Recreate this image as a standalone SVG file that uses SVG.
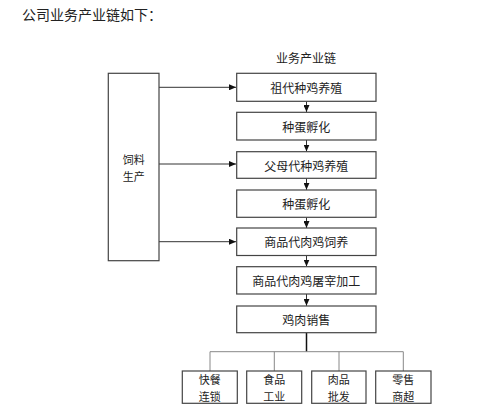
<svg xmlns="http://www.w3.org/2000/svg" width="500" height="410" viewBox="0 0 500 410">
<style>
text{font-family:"Noto Sans CJK SC","Noto Sans CJK JP",sans-serif;fill:#222;}
.t{font-size:12px;text-anchor:middle;dominant-baseline:central;}
.s{font-size:11px;text-anchor:middle;dominant-baseline:central;}
.box{fill:#fff;stroke:#444;stroke-width:1.2;}
.ln{stroke:#333;stroke-width:1;fill:none;}
.br{stroke:#888;stroke-width:1;fill:none;}
</style>
<defs>
<marker id="ah" markerWidth="8" markerHeight="6" refX="7" refY="3" orient="auto" markerUnits="userSpaceOnUse">
<path d="M0,0 L7,3 L0,6 Z" fill="#111"/>
</marker>
</defs>
<rect width="500" height="410" fill="#fff"/>
<text x="22" y="20" style="font-size:14px">公司业务产业链如下：</text>
<text class="t" x="306" y="57">业务产业链</text>
<g id="connectors">
<line class="ln" x1="159" y1="87.3" x2="236" y2="87.3" marker-end="url(#ah)"/>
<line class="ln" x1="159" y1="164" x2="236" y2="164" marker-end="url(#ah)"/>
<line class="ln" x1="159" y1="241.7" x2="236" y2="241.7" marker-end="url(#ah)"/>
<line class="ln" x1="306.5" y1="101.3" x2="306.5" y2="112" marker-end="url(#ah)"/>
<line class="ln" x1="306.5" y1="140" x2="306.5" y2="151.5" marker-end="url(#ah)"/>
<line class="ln" x1="306.5" y1="178.3" x2="306.5" y2="189.8" marker-end="url(#ah)"/>
<line class="ln" x1="306.5" y1="217.3" x2="306.5" y2="228" marker-end="url(#ah)"/>
<line class="ln" x1="306.5" y1="255.5" x2="306.5" y2="266.5" marker-end="url(#ah)"/>
<line class="ln" x1="306.5" y1="294" x2="306.5" y2="305.8" marker-end="url(#ah)"/>
<line x1="306.5" y1="332.7" x2="306.5" y2="351.7" stroke="#111" stroke-width="1.5"/>
<path class="br" d="M210,371 V351.7 H403.3 V371 M274.3,351.7 V371 M339,351.7 V371"/>
</g>
<g id="feed"><rect class="box" x="108.3" y="73.3" width="50.7" height="187.4"/><text class="s" x="133.7" y="159">饲料</text><text class="s" x="133.7" y="176">生产</text></g>
<g id="n1"><rect class="box" x="236.7" y="73.3" width="139.3" height="28"/><text class="t" x="306.3" y="87.3">祖代种鸡养殖</text></g>
<g id="n2"><rect class="box" x="236.7" y="112.3" width="139.3" height="27.7"/><text class="t" x="306.3" y="126.2">种蛋孵化</text></g>
<g id="n3"><rect class="box" x="236.7" y="151.7" width="139.3" height="26.6"/><text class="t" x="306.3" y="165">父母代种鸡养殖</text></g>
<g id="n4"><rect class="box" x="236.7" y="190" width="139.3" height="27.3"/><text class="t" x="306.3" y="203.7">种蛋孵化</text></g>
<g id="n5"><rect class="box" x="236.7" y="228" width="139.3" height="27.5"/><text class="t" x="306.3" y="241.8">商品代肉鸡饲养</text></g>
<g id="n6"><rect class="box" x="236.7" y="266.7" width="139.3" height="27.3"/><text class="t" x="306.3" y="280.3">商品代肉鸡屠宰加工</text></g>
<g id="n7"><rect class="box" x="236.7" y="306" width="139.3" height="26.7"/><text class="t" x="306.3" y="319.3">鸡肉销售</text></g>
<g id="b1"><rect class="box" x="182.3" y="371" width="55" height="32.3"/><text class="s" x="209.8" y="379">快餐</text><text class="s" x="209.8" y="395.5">连锁</text></g>
<g id="b2"><rect class="box" x="246.7" y="371" width="55" height="32.3"/><text class="s" x="274.2" y="379">食品</text><text class="s" x="274.2" y="395.5">工业</text></g>
<g id="b3"><rect class="box" x="311.7" y="371" width="54.3" height="32.3"/><text class="s" x="338.8" y="379">肉品</text><text class="s" x="338.8" y="395.5">批发</text></g>
<g id="b4"><rect class="box" x="375.7" y="371" width="55.3" height="32.3"/><text class="s" x="403.3" y="379">零售</text><text class="s" x="403.3" y="395.5">商超</text></g>
</svg>
